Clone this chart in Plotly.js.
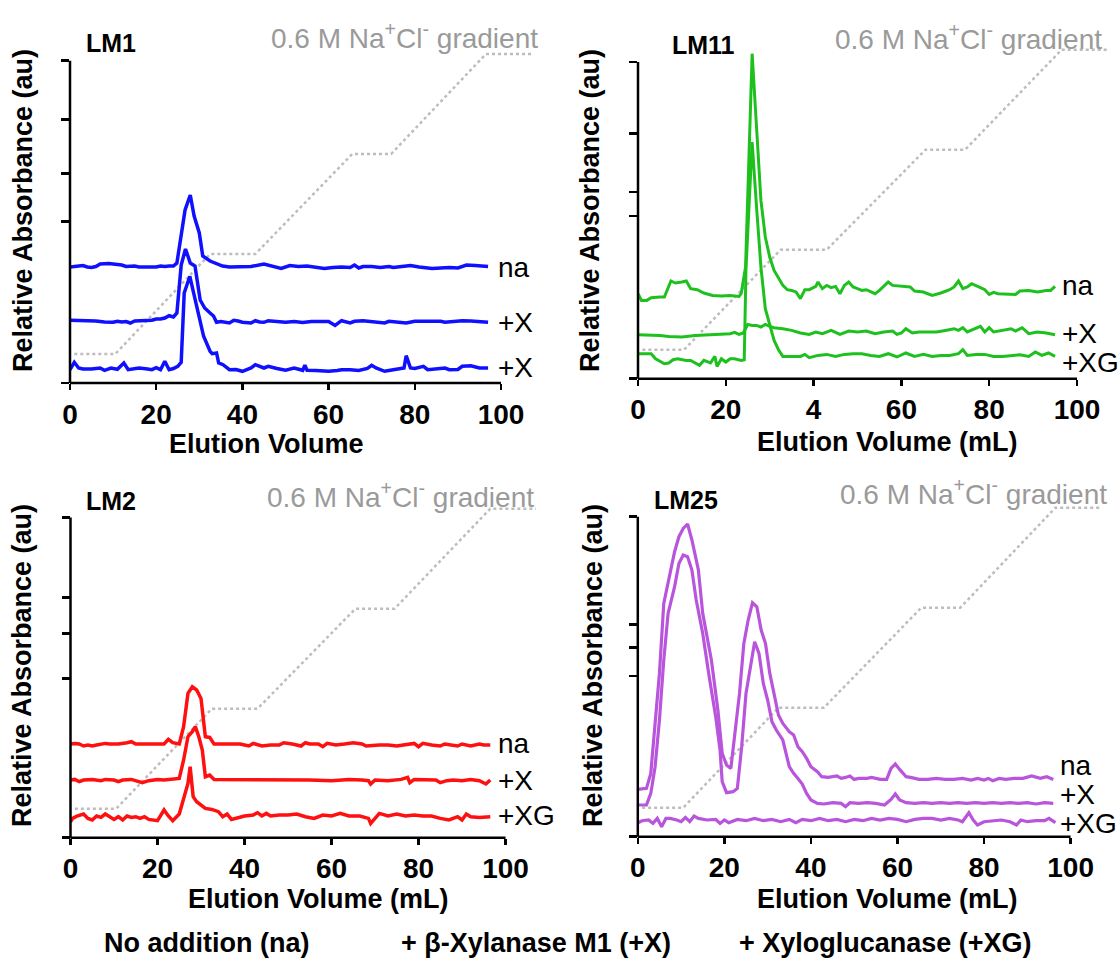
<!DOCTYPE html>
<html><head><meta charset="utf-8">
<script src="https://cdn.plot.ly/plotly-3.0.1.min.js"></script>
<style>html,body{margin:0;padding:0;background:#fff}#chart{width:1120px;height:961px}</style>
</head><body><div id="chart"></div>
<script>
// ---------- DATA (relative absorbance, au) ----------
const panelNames = ['LM1', 'LM11', 'LM2', 'LM25'];
const traceLabels1 = ['na', '+X', '+X'];
const traceLabels = ['na', '+X', '+XG'];
const xTickVals = [0, 20, 40, 60, 80, 100];
const xTickText = ['0', '20', '40', '60', '80', '100'];
const xTickTextLM11 = ['0', '20', '4', '60', '80', '100'];
const gradX = [1, 10.5, 32.5, 43, 65.5, 74.5, 96.5, 107];
const gradY = [29, 29, 129, 129, 229, 229, 329, 329];

const yTicksLM1 = [0, 161.7, 209.3, 263.3, 322.3];
const yTicksLM11 = [0, 162.7, 186.7, 245, 316.7];
const yTicksLM2 = [0, 159.3, 204.3, 240, 320.3];
const yTicksLM25 = [0, 160.7, 189.3, 212.3, 320];

// LM1
const lm1_na_x = [0,2,3,4,5,6,7,9,11,12,13,14,15,16,18,20,21,22,23,24,24.8,25.8,26.7,27.9,28.8,30,30.8,32.5,34.2,35.4,37,40,42,45,47,49,51,53,55,57,59,61,63,65,66,67,68,70,72,74,75,77,79,81,83,84,86,88,90,91,92,94,96,97];
const lm1_na_y = [116,116.5,117.5,116,115.5,116.5,119,119.5,119,118,116.5,117,117,116,116,116,117,116.5,117,117,120,150,173,188,167,150,127,122,119.5,117,116,116,116.5,119,117,114.5,117.5,116.5,117,115.5,114.5,115.5,116,115.5,118,115,116.5,116.5,115.5,116.5,115.5,116.5,117.5,116,115.5,114.5,115,115.5,115,116.5,118,117.5,116.5,116.5];
const lm1_x_x = [0,2,4,6,8,10,11,12,13,14,15,17,19,20,21,22,23,24,24.8,25.8,26.8,27.9,29,30.2,31.25,32.5,33.3,34,35,37,38,39,40,42,43,44,45,46,48,50,52,54,56,58,60,61.5,63,65,66,68,70,72,73,74,76,78,80,82,84,86,87,89,91,93,95,97];
const lm1_x_y = [62.7,62.5,62.5,62,61,60.7,61.7,61,61.5,60,62,62,62.7,64,64,65,67.3,66,70,118,134,120,117,83,75,70,67,60.7,61.5,60,62.7,62,60.7,60,62.3,61,60.7,62.3,61.5,60.7,61.5,60.5,61.5,61.7,61.5,57.5,62.3,60,61.7,62.3,61.5,61,60,61.7,61,60,61.7,61.7,61.5,61.7,60.7,61.5,62.3,62,61.5,60.7];
const lm1_x2_x = [0,1,2,3,5,7,8,9.5,11,12.5,13.5,15,16,18,19,20,21,22,23,24,25,25.8,26.5,27.8,29,30,31,32.5,33,34,34.5,35.5,37,38.5,40,42,43,45,46,48,50,52,54,54.5,55,57,60,62,63,65,67,69,70,71,73,75,76,77.5,78,79,80,82,83,85,87,88,90,91,93,95,97];
const lm1_x2_y = [13.3,20.7,15,14,14,15,12.7,15,13.7,20,13.3,14.5,15,14,13.3,15.3,13.3,21.7,13.3,14.5,16.7,20.7,90,106.7,83.3,63.3,46.7,31.7,29.3,30,20,18.3,13.3,13.5,11.7,15,18.3,15,16.7,14.5,12.7,15,12.7,17.7,12.7,12.5,11.7,12.5,13.3,13.3,12.5,14.5,17.7,15,11.7,13.3,14.3,15,27.3,15,14.5,16.7,13.3,14,15,13.3,13.5,16.7,17.3,15,15];

// LM11
const lm11_na_x = [0,0.8,2,3,5,6,7.5,8.5,10,11,12,13.5,15,17,19,21,23,23.5,24.5,25.3,26,27,28,29,30,31,32,33,34,35,36,37,38,39,40.5,41,42,43,44,45,46,47,48,49,50,51,52,53,54,55,57,58,60,62,63,65,67,69,71,72,73,74,75,76,78,79,80,81,82,84,86,87,89,91,93,94,95];
const lm11_na_y = [85,78.3,78.3,81,81.7,81.7,97.7,95.7,96.7,97.7,90,89,85.7,83.3,82.7,83.3,82.3,85,111.7,228.3,325,251.7,178.3,141.7,121.7,108.3,100,93.3,89,88.3,86.7,80,89,89,92.3,96.7,90,93.3,91,92.3,85,93.3,96.7,91.7,90,88.3,89,86.7,85,88.3,96.7,93.3,92.3,91.7,87.7,86.7,83.3,85.7,89,91.7,97.7,90,91.7,95,91,89,84.3,86.3,85,85,84.3,87.7,88.3,86.7,88.3,88.3,92.3];
const lm11_x_x = [0,3,5,7,10,13,16,19,21,22,23,24,25,26,27,28,29,30,31,33,35,37,39,40.5,42,44,46,48,50,52,54,56,58,59,60,61,62.5,64,66,68,70,72,73,74,75,77,78,79,80,81,83,85,86,87.5,89,91,93,95];
const lm11_x_y = [44,44,43.3,42.3,41.7,43.3,44,44.3,45,46.3,44.3,45.7,54.3,53.3,53.3,51.7,54.3,52.3,51,50,48.3,45.7,44.3,46.7,45,48.3,44.3,47.7,46.7,47.7,45,46.7,47.7,44.3,45.7,50,45.7,46.7,46.7,46.7,48.3,50,48.3,51,46.7,50,52.3,46.7,51,46.7,48.3,50,47.7,51,45,46.7,45.7,44];
const lm11_xg_x = [0,1.5,3,4,6,7,8,9,11,12,13,14,15,16.5,17.5,18,19,20,21,22,23.5,24.2,24.6,26,27,28,29,30,31,32,33,35,37,38,39,41,43,45,47,49,51,53,55,57,59,61,63,65,67,69,71,73,74,75,77,79,81,83,85,87,89,90.5,92,93.5,95];
const lm11_xg_y = [25,25,25,20,15,15.7,19,20,18.3,18.3,15.7,13.3,18.3,15.7,22.3,12.3,20,16.7,20,20,18.3,19,110,236.7,171.7,111.7,70,53.3,38.3,29,22.3,22.3,22.3,24.3,21,23.3,24.3,22.3,24.3,25,25,23.3,22.3,25,21.7,25.7,22.3,24.3,22.3,23.3,23.3,25,29,23.3,24.3,24.3,22.3,22.3,23.3,24,22.3,26.7,23.3,25.7,22.3];

// LM2
const lm2_na_x = [0,1,2,3,4,5,6,8,9,11,13,14,15,17,20,21.5,22.5,23.5,25,26,27,28,29,30,31,32,33,35,37,39,41,42,44,46,48,49,51,53,54,55,57,58,59,61,63,65,67,68,71,73,75,77,79,80,81,83,85,86,88,89,90,92,94,95,96.5];
const lm2_na_y = [93.7,94.3,93.7,91.7,92.7,91.7,92.7,94.3,93.7,93.7,95,96,93.7,93.7,93.7,93.7,98.3,95,93.7,111,144.3,151,147.7,139.3,101,100.3,93.7,93.7,94.3,93.7,91.7,94.3,91.7,92.7,92.7,95,93.7,91.7,95,93.7,93.7,91,94.3,92.7,93.7,95,93.7,91.7,92.7,92.7,91.7,92.7,94.3,91,94.3,92.7,91.7,93.7,92.7,91.7,93.7,91.7,93.7,92.7,92.7];
const lm2_x_x = [0,1,2,3,5,7,8,10,11,12,14,15,16.5,18,20,21.5,23,25,26,27,28,28.7,29.5,30.3,31,32,33,35,40,45,50,55,60,64,67,68.5,69,70,73,76,77.5,78,79,82,84,85,86.5,88,90,92,94,95.5,96.5];
const lm2_x_y = [57.7,58.3,56,57.7,58.3,57,58.3,57.7,56,57.7,58.3,57,55,57,58.3,57.7,58.3,59.3,77.7,101,106,111,101,87.7,61,62.7,58.3,58.3,57.7,57.7,57.7,57.7,57,58.3,57.7,57,53.7,57.7,57,58.3,60.3,55,58.3,58.3,57.7,55,57,57.7,57,58.3,57,53.7,57.7];
const lm2_xg_x = [0,0.5,1.5,3,4,5,6,7,8,9,10,11,12,13,14,15,16,17,18,20,21.5,22.5,23.5,25,26,27,27.5,28.2,29,30,31,32.5,34,35,36,37,38.5,40,42,43,44,45,46,48,50,52,54,56,58,60,62,64,66.5,68.5,69,70,71,73,75,77,79,81,83,85,87,89,90,91,92,94,96.5];
const lm2_xg_y = [16,19.3,21.7,23.7,19.3,17.7,21.7,20.3,23.7,21,18.3,21,17.7,21.7,20.3,21,19.3,21,18.3,17,27.7,21.7,17,23.7,37.7,54.3,71,41,36,32.7,29.3,28.3,26,21,23.7,18.3,20.3,21.7,22.7,25,21.7,24.3,21.7,22.7,22.7,23.7,21,19.3,22.7,21.7,24.3,21.7,21.7,19.3,14.3,19.3,24.3,21.7,23.7,21.7,22.7,21.7,21.7,19.3,17.7,21,17.7,23.7,21,20.3,21];

// LM25
const lm25_na_x = [0,2,3,4,5,6,7.5,8.5,9.5,10.5,11.5,12.5,14,15,17,18.5,19.5,20.5,21.5,22,23.5,24.5,25.5,26.5,27.5,28.5,29.5,30.5,31.5,32.5,33.5,35,36,37,38,39,40,41.5,42.5,44,46,47,48,49,50,51,53,54,56,57.5,58.5,59.5,60.5,62,63,65,67,69,71,73,75,77,78.5,80,81,82,83.5,85,87,89,91,93,94.5,96];
const lm25_na_y = [47.3,48.3,63.3,110,163.3,233.3,263.3,285,300,308.3,312.7,296.7,266.7,223.3,176.7,126.7,83.3,71.7,68.3,86.7,143.3,193.3,216.7,234,230,206.7,193.3,163.3,143.3,121.7,113.3,105,101.7,90,85,78.3,70,65,60,59.3,60.7,58.3,59.3,60.7,57.3,58.3,58.3,59.3,57.3,57.3,68.3,72.7,67.3,60,59.3,57.3,57.3,58.3,57.3,57.3,58.3,56.7,58.3,56.7,58.3,56,58.3,57.3,58.3,58.3,60.7,58.3,60,57.3];
const lm25_x_x = [0,2,3,4,5,6,7,8.5,9.5,10.5,11.5,12.5,13.5,15,16.5,18,19,19.5,20.5,22,23,24,25,26,27,28,29,30,31,32,33.5,35,36,37,38,39,40,41.5,43,45,47,48,49,51,53,55,57,58.5,59.5,60.5,62,64,66,68,70,72,74,76,78,80,82,84,86,88,90,92,94,96];
const lm25_x_y = [31.7,31.7,43.3,70,116.7,176.7,223.3,250,273.3,281.7,280,266.7,236.7,203.3,160,120,86.7,55,44,45,48.3,90,143.3,170,195,183.3,153.3,136.7,115,106.7,96.7,70,63.3,58.3,52.7,43.3,36.7,33.3,32.7,34,33.3,30,34,33.3,34,33.3,31.7,37.3,42.7,36.7,34,33.3,34,33.3,34,33.3,34,33.3,34,33.3,34,33.3,34,33.3,34,32.7,34,33.3];
const lm25_xg_x = [0,1,2.5,3.5,4.5,5.5,6.5,7.5,9,10,11,12,13,14,16,18,19,20,21,23,25,27,29,31,33,35,36.5,38,40,42,44,46,48,50,52,54,56,58,60,62,64,66,68,70,72,74,75,76.5,77.5,78.5,80,82,84,86,87.5,88.5,90,92,94,95,96.5];
const lm25_xg_y = [14,16,16.7,13.3,18.3,10,18.3,18.3,16.7,15,19.3,15,20.7,18.3,16.7,17.3,13.3,16.7,14,17.3,16,18.3,16,17.3,15,17.3,14,17.3,16,18.3,16,17.3,15,17.3,16,18.3,16.7,18.3,17.3,15,17.3,18.3,18.3,16.7,18.3,16.7,15,24,16.7,11.7,15,16,16.7,15,11.7,16.7,15,16,16,18.3,14];

const legendTexts = ['No addition (na)', '+ β-Xylanase M1 (+X)', '+ Xyloglucanase (+XG)'];

// ---------- LAYOUT / STYLE ----------
const W = 1120, H = 961;
const fx = px => px / W;
const fy = py => 1 - py / H;
const FONT = 'Liberation Sans, Arial, sans-serif';
const YR = 345, XR = 109;

const panels = [
  {name: panelNames[0], color: '#1010ff', lw: 3.5, x0: 70, ppu: 4.31, yb: 383, yt: yTicksLM1, ticktext: xTickText,
   series: [[lm1_na_x, lm1_na_y], [lm1_x_x, lm1_x_y], [lm1_x2_x, lm1_x2_y]], labels: traceLabels1,
   labelPos: [[496, 267], [496, 322], [496, 367]], titlePos: [84, 43], gradPos: [540, 36],
   yTitle: [23, 211], xTitle: 'Elution Volume', xTitlePos: [266, 444]},
  {name: panelNames[1], color: '#1ec01e', lw: 3, x0: 638, ppu: 4.39, yb: 378.7, yt: yTicksLM11, ticktext: xTickTextLM11,
   series: [[lm11_na_x, lm11_na_y], [lm11_x_x, lm11_x_y], [lm11_xg_x, lm11_xg_y]], labels: traceLabels,
   labelPos: [[1060, 285], [1060, 333], [1060, 362]], titlePos: [670, 45], gradPos: [1104, 37],
   yTitle: [590, 211], xTitle: 'Elution Volume (mL)', xTitlePos: [887, 442]},
  {name: panelNames[2], color: '#ff1010', lw: 3.5, x0: 70.5, ppu: 4.35, yb: 837.7, yt: yTicksLM2, ticktext: xTickText,
   series: [[lm2_na_x, lm2_na_y], [lm2_x_x, lm2_x_y], [lm2_xg_x, lm2_xg_y]], labels: traceLabels,
   labelPos: [[496, 743], [496, 780], [496, 815]], titlePos: [84, 501], gradPos: [536, 495],
   yTitle: [22, 666], xTitle: 'Elution Volume (mL)', xTitlePos: [318, 899]},
  {name: panelNames[3], color: '#b855dc', lw: 3.2, x0: 637.8, ppu: 4.328, yb: 836.7, yt: yTicksLM25, ticktext: xTickText,
   series: [[lm25_na_x, lm25_na_y], [lm25_x_x, lm25_x_y], [lm25_xg_x, lm25_xg_y]], labels: traceLabels,
   labelPos: [[1058, 765], [1058, 794], [1058, 823]], titlePos: [652, 500], gradPos: [1109, 492],
   yTitle: [593, 666], xTitle: 'Elution Volume (mL)', xTitlePos: [887, 899]}
];

const data = [], shapes = [], annotations = [];
const layout = {
  width: W, height: H, margin: {l: 0, r: 0, t: 0, b: 0},
  paper_bgcolor: '#fff', plot_bgcolor: 'rgba(0,0,0,0)', showlegend: false,
  font: {family: FONT, color: '#000'}
};

panels.forEach((p, i) => {
  const n = i === 0 ? '' : String(i + 1);
  const xa = 'x' + n, ya = 'y' + n;
  layout['xaxis' + n] = {
    domain: [fx(p.x0), fx(p.x0 + XR * p.ppu)], range: [0, XR], anchor: ya,
    showline: false, showgrid: false, zeroline: false, fixedrange: true,
    ticks: 'outside', ticklen: 6, tickwidth: 2.5, tickcolor: '#000',
    tickmode: 'array', tickvals: xTickVals, ticktext: p.ticktext,
    tickfont: {family: FONT, size: 28, color: '#000', weight: 'bold'}
  };
  layout['yaxis' + n] = {
    domain: [fy(p.yb), fy(p.yb - YR)], range: [0, YR], anchor: xa,
    showline: false, showgrid: false, zeroline: false, fixedrange: true,
    ticks: 'outside', ticklen: 8, tickwidth: 2.5, tickcolor: '#000',
    tickmode: 'array', tickvals: p.yt, showticklabels: false
  };
  // gradient
  data.push({x: gradX, y: gradY, xaxis: xa, yaxis: ya, mode: 'lines', hoverinfo: 'skip',
    line: {color: '#bdbdbd', width: 2.5, dash: 'dot'}});
  p.series.forEach(s => {
    data.push({x: s[0], y: s[1], xaxis: xa, yaxis: ya, mode: 'lines', hoverinfo: 'skip',
      line: {color: p.color, width: p.lw}});
  });
  // axis lines
  const yTop = Math.max(...p.yt);
  shapes.push({type: 'line', xref: xa + ' domain', yref: ya + ' domain', x0: 0, x1: 100 / XR, y0: 0, y1: 0,
    line: {color: '#000', width: 2.5}});
  shapes.push({type: 'line', xref: xa + ' domain', yref: ya + ' domain', x0: 0, x1: 0, y0: 0, y1: yTop / YR,
    line: {color: '#000', width: 2.5}});
  // texts
  annotations.push({xref: 'paper', yref: 'paper', x: fx(p.titlePos[0]), y: fy(p.titlePos[1]),
    xanchor: 'left', yanchor: 'middle', showarrow: false, text: p.name,
    font: {family: FONT, size: 25, color: '#000', weight: 'bold'}});
  annotations.push({xref: 'paper', yref: 'paper', x: fx(p.gradPos[0]), y: fy(p.gradPos[1]),
    xanchor: 'right', yanchor: 'middle', showarrow: false,
    text: '0.6 M Na<sup>+</sup>Cl<sup>-</sup> gradient',
    font: {family: FONT, size: 28, color: '#9a9a9a'}});
  annotations.push({xref: 'paper', yref: 'paper', x: fx(p.yTitle[0]), y: fy(p.yTitle[1]),
    xanchor: 'center', yanchor: 'middle', showarrow: false, textangle: -90,
    text: 'Relative Absorbance (au)', font: {family: FONT, size: 27, color: '#000', weight: 'bold'}});
  annotations.push({xref: 'paper', yref: 'paper', x: fx(p.xTitlePos[0]), y: fy(p.xTitlePos[1]),
    xanchor: 'center', yanchor: 'middle', showarrow: false,
    text: p.xTitle, font: {family: FONT, size: 27, color: '#000', weight: 'bold'}});
  p.labels.forEach((t, k) => {
    annotations.push({xref: 'paper', yref: 'paper', x: fx(p.labelPos[k][0]), y: fy(p.labelPos[k][1]),
      xanchor: 'left', yanchor: 'middle', showarrow: false, text: t,
      font: {family: FONT, size: 28, color: '#000'}});
  });
});

const legendPos = [[206, 943], [536, 943], [885, 943]];
legendTexts.forEach((t, k) => {
  annotations.push({xref: 'paper', yref: 'paper', x: fx(legendPos[k][0]), y: fy(legendPos[k][1]),
    xanchor: 'center', yanchor: 'middle', showarrow: false, text: t,
    font: {family: FONT, size: 27, color: '#000', weight: 'bold'}});
});

layout.shapes = shapes;
layout.annotations = annotations;
Plotly.newPlot('chart', data, layout, {staticPlot: true, displayModeBar: false});
</script></body></html>
